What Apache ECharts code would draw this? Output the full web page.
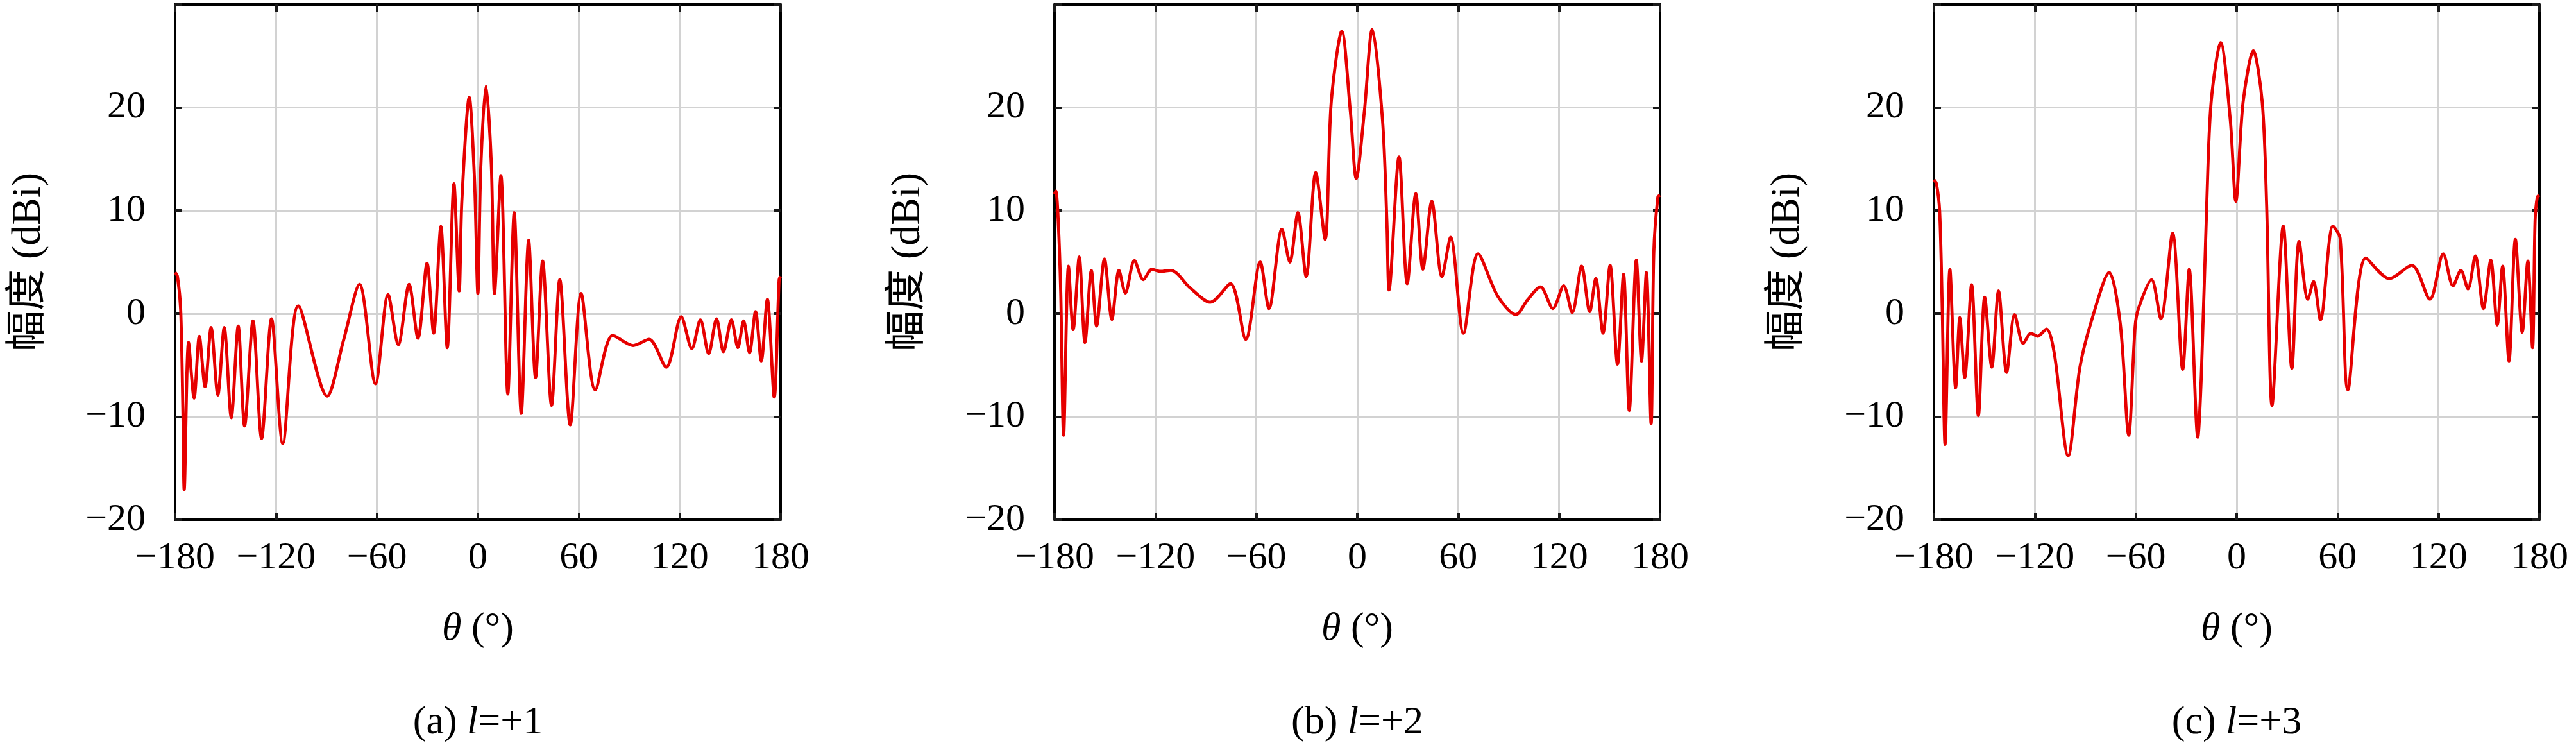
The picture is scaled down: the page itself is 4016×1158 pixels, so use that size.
<!DOCTYPE html>
<html>
<head>
    <meta charset="utf-8">
    <title>方向图</title>
    <script src="https://cdn.jsdelivr.net/npm/echarts@6/dist/echarts.min.js"></script>
    <style>
        html, body { margin: 0; padding: 0; background: #ffffff; }
        #chart { width: 4016px; height: 1158px; }
    </style>
</head>
<body>
<div id="chart"></div>
<script>
    // (a) l=+1
    var thetaA = [-180, -178.6, -176.7, -175.4, -174.6, -172, -168.7, -165.6, -162.2, -158.6, -154.6, -150.8, -146.6, -142.5, -138.7, -133.7, -128.6, -122.7, -116, -106.8, -89.6, -79.9, -70.4, -60.9, -53.4, -47.3, -40.9, -35.6, -30.2, -26.3, -22, -18.2, -14.2, -11.1, -9.5, -5.1, -2, 0, 1.7, 4.8, 8, 9.9, 13.7, 17.8, 21.6, 25.8, 30.2, 34.3, 38.5, 43.8, 48.7, 54.9, 61.4, 69.8, 80.2, 92.3, 101.8, 112, 120.9, 127.2, 132.3, 137.2, 141.9, 146, 150.7, 154.6, 158, 161.5, 165.1, 168.5, 172.1, 176.2, 179.1, 180];
    var gainA = [4.0, 3.6, 0.4, -9.2, -17.1, -2.8, -8.2, -2.2, -7.1, -1.35, -7.9, -1.35, -10.1, -1.2, -10.9, -0.7, -12.1, -0.5, -12.6, 0.76, -8.0, -2.6, 2.84, -6.8, 1.85, -3.0, 2.84, -2.4, 4.9, -1.9, 8.45, -3.3, 12.6, 2.2, 11, 21.0, 13, 1.95, 14, 22.1, 14.5, 1.95, 13.4, -7.8, 9.8, -9.7, 7.1, -6.2, 5.1, -8.9, 3.3, -10.8, 1.95, -7.4, -2.1, -3.1, -2.5, -5.2, -0.3, -3.4, -0.6, -3.9, -0.5, -3.7, -0.6, -3.3, -0.7, -3.8, 0.2, -4.6, 1.4, -8.1, 3.3, 3.6];

    // (b) l=+2
    var thetaB = [-180, -179.2, -177.8, -176.3, -174.6, -171.7, -168.9, -165.3, -161.9, -158.1, -155, -150.3, -145.9, -141.7, -137.9, -132.5, -127.2, -122.1, -117.1, -110.8, -99.4, -87.4, -75.4, -66.3, -57.7, -52.5, -44.8, -40.1, -35.3, -30.4, -24.7, -19.1, -15.5, -9.2, -4.1, -0.6, 4.2, 8.9, 15, 17.6, 18.9, 24.8, 29.7, 34.8, 39, 44.3, 50.3, 55.5, 63.1, 71.8, 83.5, 94.3, 101.3, 108.9, 116.3, 122.7, 127.8, 133.4, 138.2, 141.8, 146.1, 150.3, 154.7, 158.3, 161.7, 165.9, 169, 171.9, 174.7, 176.3, 178.7, 180];
    var gainB = [11.6, 11.9, 9, 2, -11.8, 4.6, -1.55, 5.5, -2.8, 4.2, -1.2, 5.3, -0.56, 4.2, 2.0, 5.15, 3.3, 4.3, 4.1, 4.2, 2.5, 1.1, 2.9, -2.5, 5.0, 0.5, 8.2, 5.0, 9.8, 3.6, 13.7, 7.2, 20.5, 27.4, 19.6, 13.1, 19.6, 27.6, 18.8, 8.9, 2.3, 15.2, 2.9, 11.65, 4.3, 10.9, 3.6, 7.4, -1.9, 5.8, 1.7, -0.1, 1.35, 2.6, 0.5, 2.7, 0.1, 4.6, 0.2, 3.4, -1.9, 4.7, -4.9, 3.8, -9.4, 5.2, -4.6, 4.0, -10.7, 6, 11.3, 11.5];

    // (c) l=+3
    var thetaC = [-180, -178.5, -176.6, -175, -173.4, -170.5, -167.1, -164.6, -161.7, -157.6, -153.6, -149.8, -145.6, -141.6, -136.8, -132, -126.9, -122.3, -118.5, -113.1, -108.4, -100.2, -93.2, -85.6, -75.8, -69.2, -64.2, -60.4, -58.4, -50.6, -45.1, -38.1, -32.1, -28.2, -23.1, -21, -17.8, -15.2, -9.5, -3.8, -0.5, 3.8, 9.9, 15.2, 17.8, 21, 27.7, 32.8, 37.1, 42.3, 45.7, 49.8, 57.2, 61.5, 66.1, 76.8, 90.8, 104.1, 114.9, 122.8, 128.6, 133.3, 137.5, 141.9, 146.7, 151.1, 154.9, 158.1, 161.9, 165.7, 169.8, 173.1, 175.9, 177.4, 178.7, 180];
    var gainC = [13, 12.6, 9.9, 0, -12.7, 4.3, -7.2, -0.4, -6.2, 2.8, -9.9, 1.6, -5.2, 2.2, -5.7, -0.1, -2.9, -1.9, -2.2, -1.5, -3.9, -13.8, -5.2, -0.3, 4.0, -1.0, -11.8, -1.3, 0.5, 3.3, -0.5, 7.8, -5.4, 4.3, -12.0, -5.9, 10.6, 20.5, 26.3, 18.8, 10.9, 20.5, 25.5, 20.5, 10.6, -8.9, 8.5, -5.3, 7.0, 1.4, 3.1, -0.6, 8.5, 7.3, -7.4, 5.4, 3.4, 4.7, 1.4, 5.8, 2.7, 4.2, 2.4, 5.6, 0.5, 5.2, -1.1, 4.6, -4.6, 7.2, -1.8, 5.1, -3.3, 9, 11.3, 11.5];

    var captions = ['(a) ', '(b) ', '(c) '];
    var modes = ['=+1', '=+2', '=+3'];

    var chart = echarts.init(document.getElementById('chart'));
    var FONT = "'Liberation Serif', 'Noto Sans CJK SC', serif";
    var FS = 60;

    function fmtNum(v) {
        return v < 0 ? '\u2212' + Math.abs(v) : String(v);
    }
    function zip(xs, ys) {
        var out = [];
        for (var k = 0; k < xs.length; k++) out.push([xs[k], ys[k]]);
        return out;
    }

    var panels = [zip(thetaA, gainA), zip(thetaB, gainB), zip(thetaC, gainC)];
    var lefts = [273, 1644, 3015];
    var plotTop = 7, plotW = 944, plotH = 803;

    var grids = [], xAxes = [], yAxes = [], series = [], graphics = [];
    var axisLine = { show: true, onZero: false, lineStyle: { color: '#000', width: 4 } };
    var axisTick = { show: true, inside: true, length: 11, lineStyle: { color: '#1a1a1a', width: 4 } };
    var split = { show: true, lineStyle: { color: '#d2d2d2', width: 3 } };

    for (var i = 0; i < 3; i++) {
        grids.push({ left: lefts[i], top: plotTop, width: plotW, height: plotH });
        // 下/上 x 轴
        xAxes.push({
            gridIndex: i, type: 'value', min: -180, max: 180, interval: 60, position: 'bottom',
            axisLine: axisLine, axisTick: axisTick, splitLine: split,
            axisLabel: { margin: 30, fontSize: FS, fontFamily: FONT, color: '#000', formatter: fmtNum }
        });
        xAxes.push({
            gridIndex: i, type: 'value', min: -180, max: 180, interval: 60, position: 'top',
            axisLine: axisLine, axisTick: axisTick, splitLine: { show: false }, axisLabel: { show: false }
        });
        // 左/右 y 轴
        yAxes.push({
            gridIndex: i, type: 'value', min: -20, max: 30, interval: 10, position: 'left',
            axisLine: axisLine, axisTick: axisTick, splitLine: split,
            axisLabel: {
                margin: 46, fontSize: FS, fontFamily: FONT, color: '#000',
                formatter: function (v) { return v === 30 ? '' : fmtNum(v); }
            }
        });
        yAxes.push({
            gridIndex: i, type: 'value', min: -20, max: 30, interval: 10, position: 'right',
            axisLine: axisLine, axisTick: axisTick, splitLine: { show: false }, axisLabel: { show: false }
        });
        series.push({
            type: 'line', xAxisIndex: 2 * i, yAxisIndex: 2 * i,
            data: panels[i], showSymbol: false, smooth: 0.3,
            lineStyle: { color: '#e60000', width: 4.8 }, z: 5
        });

        var cx = lefts[i] + plotW / 2;
        var rich = {
            n: { fontFamily: FONT, fontSize: FS + 2, fill: '#000' },
            it: { fontFamily: FONT, fontSize: FS + 2, fontStyle: 'italic', fill: '#000' }
        };
        graphics.push({
            type: 'text', x: cx, y: 981,
            style: { text: '{it|\u03b8}{n| (\u00b0)}', rich: rich, align: 'center', verticalAlign: 'middle', textAlign: 'center', textVerticalAlign: 'middle' }
        });
        graphics.push({
            type: 'text', x: cx, y: 1127,
            style: { text: '{n|' + captions[i] + '}{it|l}{n|' + modes[i] + '}', rich: rich, align: 'center', verticalAlign: 'middle', textAlign: 'center', textVerticalAlign: 'middle' }
        });
        graphics.push({
            type: 'text', x: lefts[i] - 228, y: plotTop + plotH / 2, rotation: Math.PI / 2,
            style: { text: '幅度 (dBi)', font: '64px ' + FONT, fill: '#000', align: 'center', verticalAlign: 'middle', textAlign: 'center', textVerticalAlign: 'middle' }
        });
    }

    chart.setOption({
        animation: false,
        backgroundColor: '#ffffff',
        grid: grids,
        xAxis: xAxes,
        yAxis: yAxes,
        series: series,
        graphic: graphics
    });

    window.onresize = function () {
        chart.resize();
    };
</script>
</body>
</html>
